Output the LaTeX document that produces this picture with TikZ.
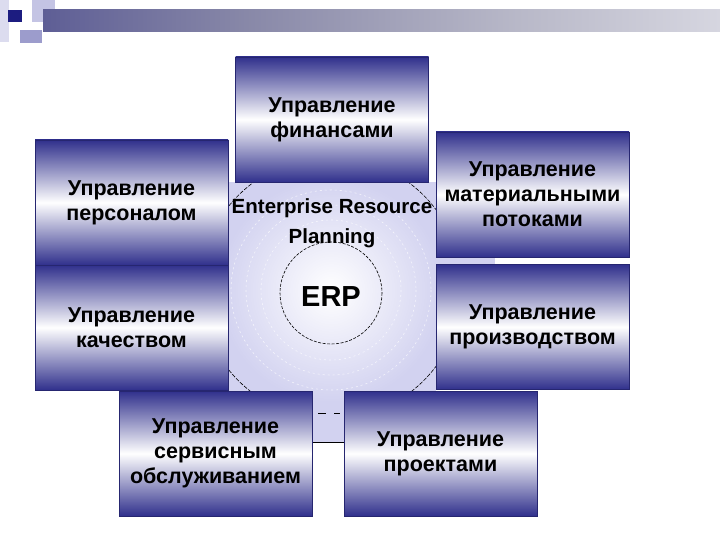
\documentclass[tikz,border=0pt]{standalone}
\usepackage{fontspec}
\setmainfont{Liberation Sans}
\definecolor{boxblue}{HTML}{30308C}
\definecolor{lav}{HTML}{D2D2F0}
\definecolor{hdrblue}{HTML}{1C1C80}
\definecolor{hdrA}{HTML}{50508F}
\definecolor{hdrB}{HTML}{8888A8}
\definecolor{hdrC}{HTML}{B8B8C8}
\definecolor{hdrD}{HTML}{E0E0E8}
\definecolor{sqlight}{HTML}{C4C4E4}
\definecolor{sqmid}{HTML}{9C9CCC}
\pgfdeclarehorizontalshading{hdrshade}{100bp}{color(0bp)=(hdrblue); color(20bp)=(hdrA); color(40bp)=(hdrB); color(60bp)=(hdrC); color(80bp)=(hdrD); color(95bp)=(white); color(100bp)=(white)}
\tikzset{
  modbox/.style={draw=boxblue!80!black, line width=0.8pt, minimum width=193pt, minimum height=125pt,
    top color=boxblue, bottom color=boxblue, middle color=white, align=center, inner sep=0pt,
    font=\bfseries\fontsize{21.5}{25}\selectfont, text=black},
  ctext/.style={font=\bfseries\fontsize{20.5}{24}\selectfont, text=black, inner sep=0pt}
}
\begin{document}
\begin{tikzpicture}[x=1pt,y=-1pt]
\useasboundingbox (0,0) rectangle (720,540);
% header decoration
\fill[sqlight!60] (0,0) rectangle (9,42);
\fill[sqlight] (32,0) rectangle (55,22);
\fill[sqmid] (20,30) rectangle (42,43);
\fill[hdrblue] (8,10) rectangle (22,22);
\shade[shading=hdrshade] (43,10) rectangle (720,32);
% central background
\fill[lav] (228,182) rectangle (436,391);
\fill[lav] (312,385) rectangle (345,442);
\fill[lav] (430,255) rectangle (495,267);
\shade[inner color=white, outer color=lav] (331,290) circle (112);
\foreach \r in {70,85,100}{\draw[white, line width=0.6pt, dash pattern=on 2pt off 3pt, opacity=0.7] (331,290) circle (\r);}
\begin{scope}
\clip (228,182) rectangle (436,391);
\draw[black, line width=0.6pt, dash pattern=on 4pt off 1.5pt] (331,288) circle (131);
\end{scope}
\draw[black, line width=0.6pt] (318,413) -- (326,413) (334,413) -- (340,413);
\draw[black, line width=0.6pt] (312,442) -- (345,442);
% modules
\node[modbox] (fin) at (332,119.5) {Управление\\финансами};
\node[modbox] (pers) at (131.5,202.5) {Управление\\персоналом};
\node[modbox] (qual) at (131.5,327.5) {Управление\\качеством};
\node[modbox] (mat) at (532.5,194.5) {Управление\\материальными\\потоками};
\node[modbox] (prod) at (532.5,327) {Управление\\производством};
\node[modbox] (serv) at (215.5,453.5) {Управление\\сервисным\\обслуживанием};
\node[modbox] (proj) at (440.5,453.5) {Управление\\проектами};
% centre
\draw[black, line width=0.6pt, dash pattern=on 3pt off 1.5pt] (331,293) circle (51);
\node[ctext] (ent) at (332,208) {Enterprise Resource};
\node[ctext] (plan) at (332,238) {Planning};
\node[font=\bfseries\fontsize{29}{34}\selectfont, inner sep=0pt] (erp) at (331,297) {ERP};
\end{tikzpicture}
\end{document}
